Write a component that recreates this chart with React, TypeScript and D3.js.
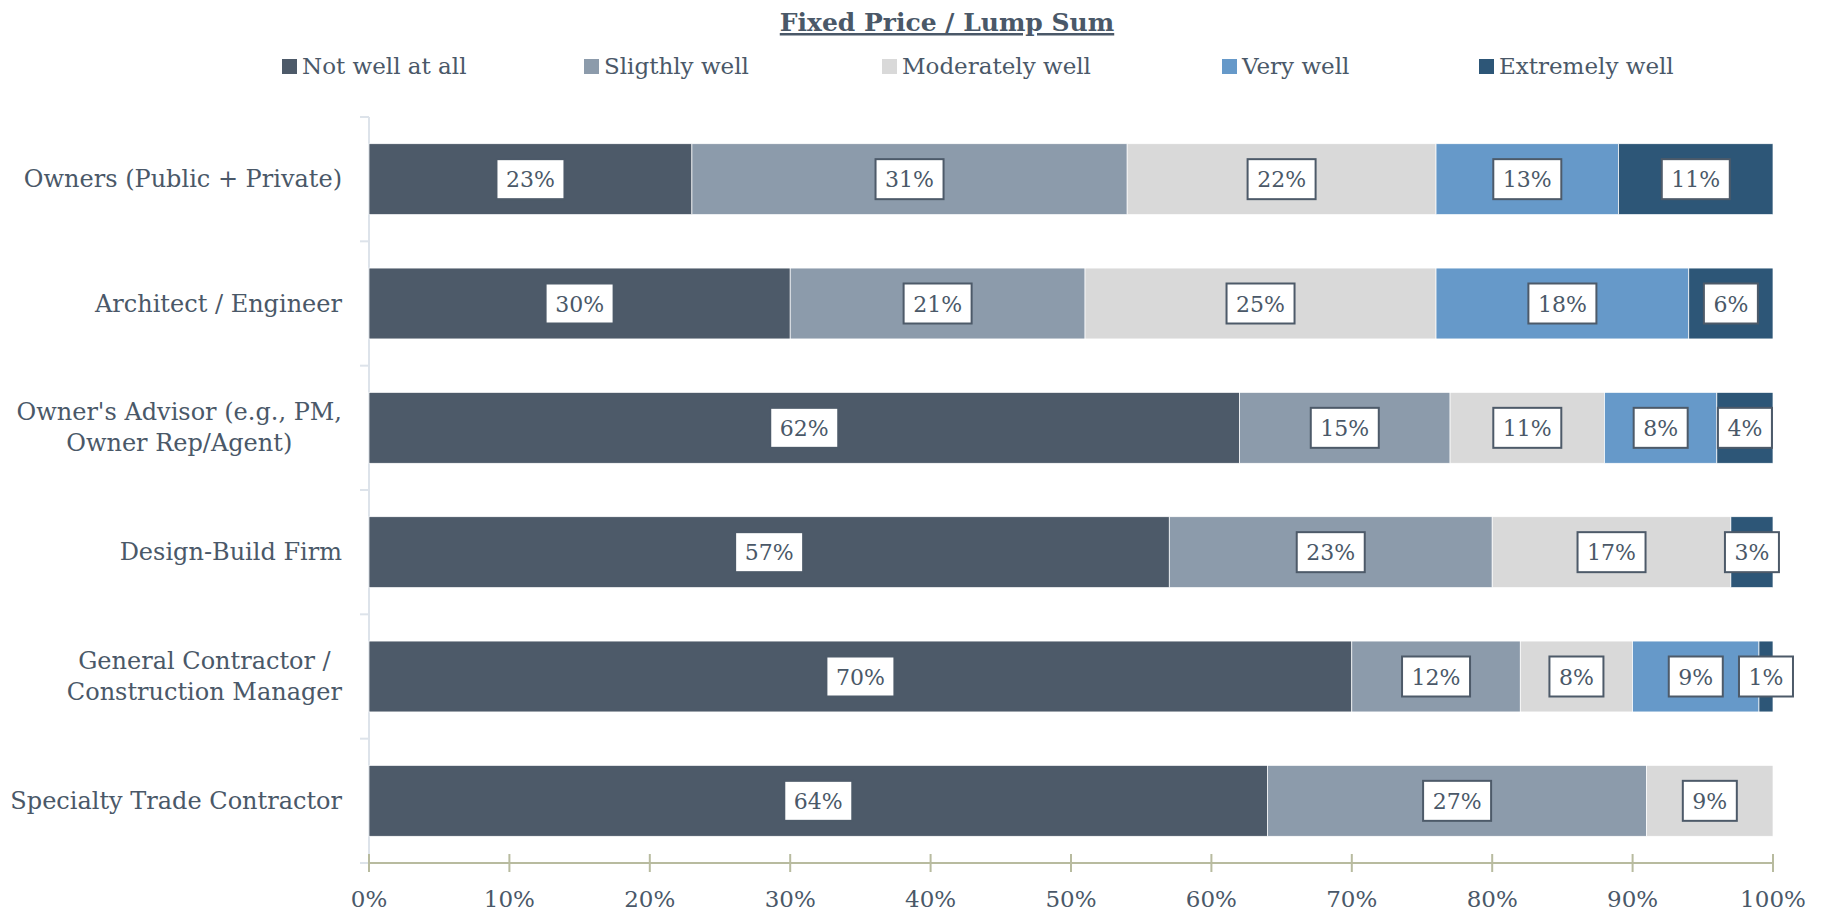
import React, { useLayoutEffect, useRef, useState } from "react";
import * as d3 from "d3";

const title = "Fixed Price / Lump Sum";
const seriesNames = ["Not well at all", "Sligthly well", "Moderately well", "Very well", "Extremely well"];
const seriesColors = ["#4d5a69", "#8c9bab", "#d9d9d9", "#6699c9", "#2d5677"];
const categories = [
  ["Owners (Public + Private)"],
  ["Architect / Engineer"],
  ["Owner's Advisor (e.g., PM,", "Owner Rep/Agent)"],
  ["Design-Build Firm"],
  ["General Contractor /", "Construction Manager"],
  ["Specialty Trade Contractor"],
];
const notWell = [23, 30, 62, 57, 70, 64];
const slightly = [31, 21, 15, 23, 12, 27];
const moderately = [22, 25, 11, 17, 8, 9];
const veryWell = [13, 18, 8, 0, 9, 0];
const extremely = [11, 6, 4, 3, 1, 0];
const xTicks = [0, 10, 20, 30, 40, 50, 60, 70, 80, 90, 100];

const W = 1827;
const H = 914;
const TEXT = "#4a5868";
const FONT = "'DejaVu Serif', serif";

export default function App() {
  const values = [notWell, slightly, moderately, veryWell, extremely];
  const left = 369;
  const right = 1773;
  const top = 117;
  const bottom = 863;
  const x = d3.scaleLinear().domain([0, 100]).range([left, right]);
  const y = d3
    .scaleBand<number>()
    .domain(categories.map((_, i) => i))
    .range([top, bottom])
    .paddingInner(0.43)
    .paddingOuter(0.215);
  const band = (bottom - top) / categories.length;

  const rows = categories.map((_, ci) => {
    let acc = 0;
    return values.map((s, si) => {
      const v = s[ci];
      const seg = { si, x0: acc, x1: acc + v, v };
      acc += v;
      return seg;
    });
  });

  const labelRefs = useRef<(SVGTextElement | null)[]>([]);
  const [widths, setWidths] = useState<number[][]>([]);
  useLayoutEffect(() => {
    const ws = categories.map((lines, ci) =>
      lines.map((_, li) => {
        const el = labelRefs.current[ci * 3 + li];
        return el ? el.getComputedTextLength() : 0;
      })
    );
    setWidths(ws);
  }, []);

  const legendX = [282, 584, 882, 1222, 1479];
  const labelFont = 22;

  return (
    <svg
      width={W}
      height={H}
      style={{ display: "block", fontFamily: FONT, position: "absolute", left: 0, top: 0 }}
    >
      <rect x={0} y={0} width={W} height={H} fill="#ffffff" />
      {/* Title */}
      <text
        x={947}
        y={31}
        textAnchor="middle"
        fontSize={25}
        fontWeight="bold"
        fill={TEXT}
        textDecoration="underline"
        style={{ textDecoration: "underline" }}
      >
        {title}
      </text>
      {/* Legend */}
      {seriesNames.map((n, i) => (
        <g key={n}>
          <rect x={legendX[i]} y={59} width={15} height={15} fill={seriesColors[i]} />
          <text x={legendX[i] + 20} y={74} fontSize={23} fill={TEXT}>
            {n}
          </text>
        </g>
      ))}
      {/* Y axis line and ticks */}
      <line x1={left} x2={left} y1={top} y2={bottom} stroke="#dde3ea" strokeWidth={2} />
      {d3.range(categories.length + 1).map((i) => (
        <line
          key={i}
          x1={left - 9}
          x2={left}
          y1={top + i * band}
          y2={top + i * band}
          stroke="#dde3ea"
          strokeWidth={2}
        />
      ))}
      {/* Bars */}
      {rows.map((segs, ci) => (
        <g key={ci}>
          {segs.map((s) =>
            s.v > 0 ? (
              <rect
                key={s.si}
                x={x(s.x0)}
                y={y(ci)}
                width={x(s.x1) - x(s.x0)}
                height={y.bandwidth()}
                fill={seriesColors[s.si]}
                stroke="#ffffff"
                strokeWidth={0.7}
              />
            ) : null
          )}
        </g>
      ))}
      {/* Data labels */}
      {rows.map((segs, ci) => (
        <g key={"l" + ci}>
          {segs.map((s) => {
            if (s.v <= 0) return null;
            const txt = `${s.v}%`;
            const tw = txt.length === 2 ? 34 : 48;
            const bw = tw + 20;
            const bh = 40;
            const cx = x((s.x0 + s.x1) / 2);
            const cy = (y(ci) as number) + y.bandwidth() / 2;
            return (
              <g key={s.si}>
                <rect
                  x={cx - bw / 2}
                  y={cy - bh / 2}
                  width={bw}
                  height={bh}
                  fill="#ffffff"
                  stroke="#4d5a69"
                  strokeWidth={2}
                />
                <text x={cx} y={cy + 8} textAnchor="middle" fontSize={labelFont} fill={TEXT}>
                  {txt}
                </text>
              </g>
            );
          })}
        </g>
      ))}
      {/* Category labels */}
      {categories.map((lines, ci) => {
        const cy = (y(ci) as number) + y.bandwidth() / 2;
        const lh = 31;
        const rightEdge = 342;
        const ws = widths[ci] || [];
        const maxW = ws.length ? Math.max(...ws) : 0;
        return (
          <g key={"c" + ci}>
            {lines.map((ln, li) => {
              const ly = cy + 8 + (li - (lines.length - 1) / 2) * lh;
              const useCenter = maxW > 0 && lines.length > 1;
              return (
                <text
                  key={li}
                  ref={(el) => {
                    labelRefs.current[ci * 3 + li] = el;
                  }}
                  x={useCenter ? rightEdge - maxW / 2 : rightEdge}
                  y={ly}
                  textAnchor={useCenter ? "middle" : "end"}
                  fontSize={24}
                  fill={TEXT}
                >
                  {ln}
                </text>
              );
            })}
          </g>
        );
      })}
      {/* X axis */}
      <line x1={left} x2={right} y1={bottom} y2={bottom} stroke="#b8bb9f" strokeWidth={2} />
      {xTicks.map((t) => (
        <g key={t}>
          <line x1={x(t)} x2={x(t)} y1={bottom - 9} y2={bottom + 9} stroke="#b8bb9f" strokeWidth={2} />
          <text x={x(t)} y={bottom + 44} textAnchor="middle" fontSize={23} fill={TEXT}>
            {`${t}%`}
          </text>
        </g>
      ))}
    </svg>
  );
}
